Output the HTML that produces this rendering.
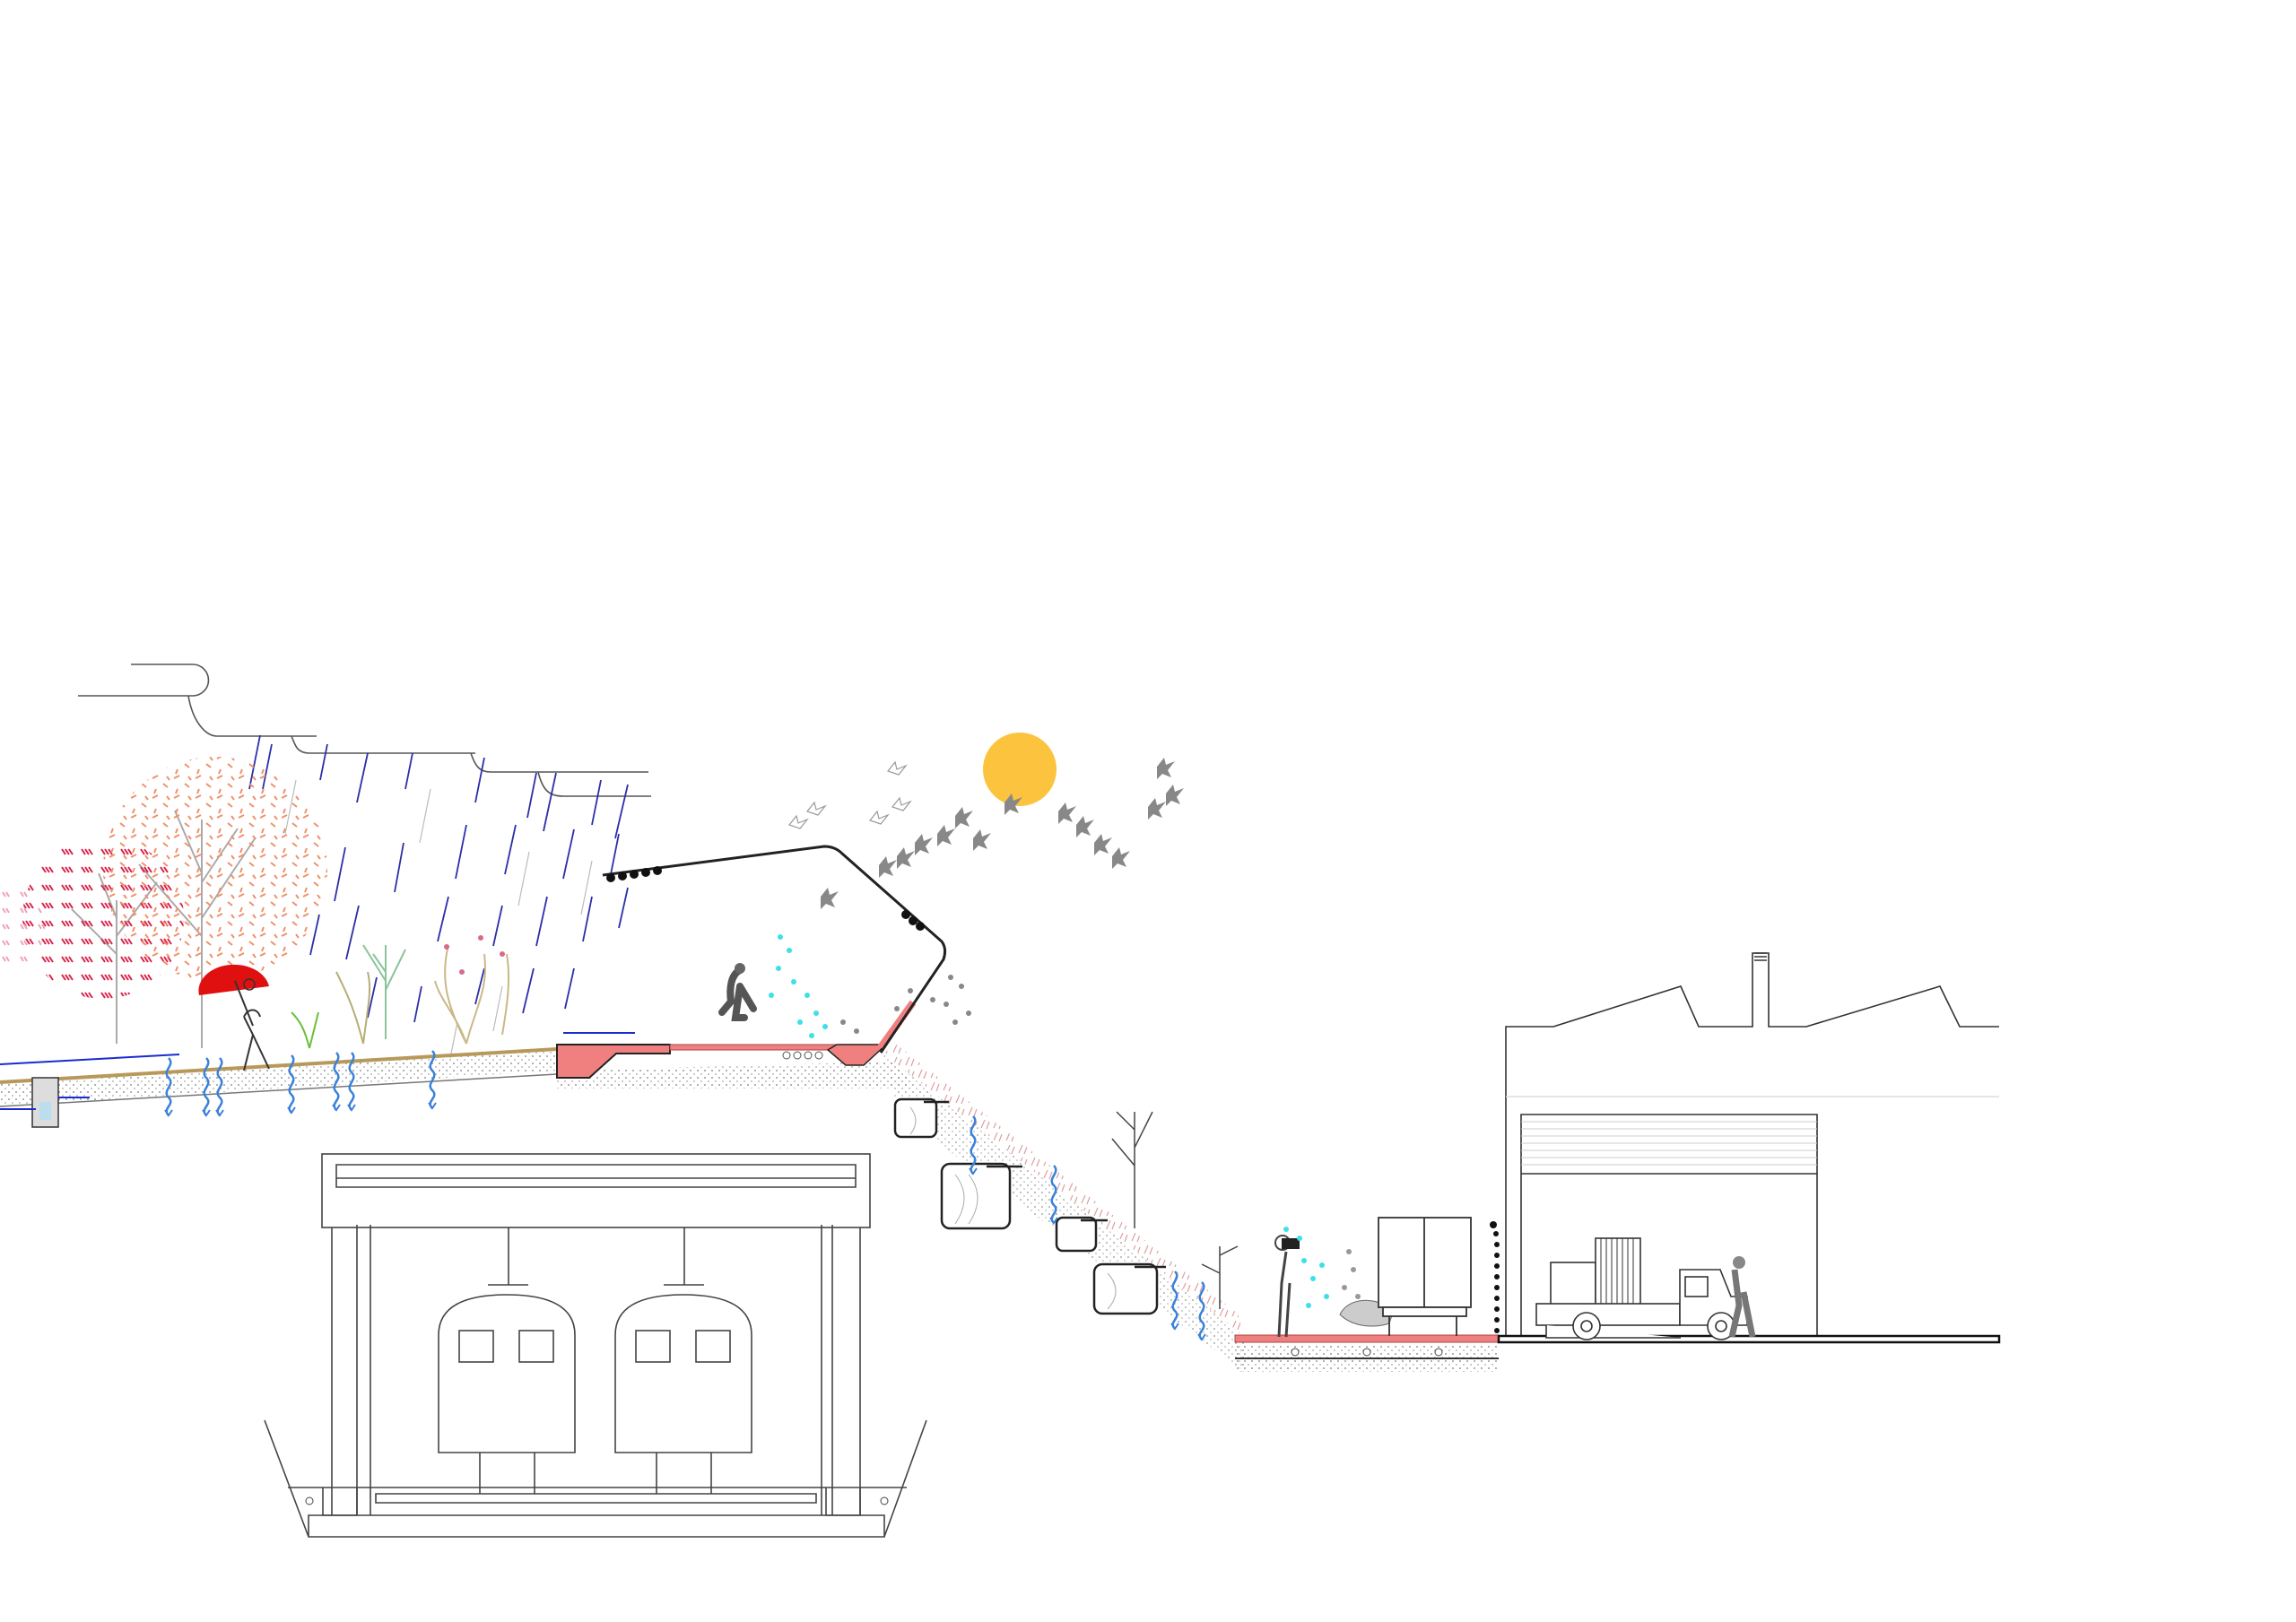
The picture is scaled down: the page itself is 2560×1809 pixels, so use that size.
<!DOCTYPE html>
<html><head><meta charset="utf-8"><style>html,body{margin:0;padding:0;background:#fff}svg{display:block}</style></head>
<body>
<svg width="2560" height="1809" viewBox="0 0 2560 1809" xmlns="http://www.w3.org/2000/svg">
<defs>
<pattern id="stip" width="8" height="8" patternUnits="userSpaceOnUse"><circle cx="2" cy="2" r="1" fill="#999"/><circle cx="6" cy="6" r="1" fill="#bbb"/></pattern>
<pattern id="redleaf" width="22" height="20" patternUnits="userSpaceOnUse"><path d="M3 3l4 6M7 3l4 6M11 3l4 6" stroke="#d8234a" stroke-width="2"/></pattern>
<pattern id="orleaf" width="24" height="22" patternUnits="userSpaceOnUse"><path d="M2 4l6-3M14 10l5 4M6 16l-2 5M18 2l3 4" stroke="#f0906a" stroke-width="2"/></pattern>
<pattern id="pinkleaf" width="20" height="18" patternUnits="userSpaceOnUse"><path d="M3 3l3 5M7 3l3 5" stroke="#f0a0b8" stroke-width="2"/></pattern>
<pattern id="grass" width="14" height="14" patternUnits="userSpaceOnUse"><path d="M2 12l4-9M8 13l3-8" stroke="#c77" stroke-width="1.2" opacity=".7"/></pattern>
<g id="bird"><path d="M0 0l8-10 2 8 10-4-8 10 4 8-10-4-6 6z" fill="#888"/></g>
<g id="wave"><path d="M0 0c8 8-8 14 0 22s-8 14 0 22s-8 12 0 20" fill="none" stroke="#3a82d8" stroke-width="2.5"/><path d="M-4 58l4 6 4-6" fill="none" stroke="#3a82d8" stroke-width="2"/></g>
</defs>

<!-- clouds -->
<g fill="none" stroke="#555" stroke-width="1.6">
<path d="M146 741H215a15 15 0 0 1 0 35H87"/>
<path d="M210 776c5 30 20 45 32 45H353"/>
<path d="M325 821c4 10 6 19 20 19H530"/>
<path d="M525 840c5 15 10 21 22 21H723"/>
<path d="M600 861c5 20 12 27 28 27H726"/>
</g>

<!-- rain -->
<g stroke="#2b2fa8" stroke-width="1.8">
<path d="M290 820l-12 60M303 830l-10 50M365 830l-8 40M410 840l-12 55M460 840l-8 40M540 845l-10 50M598 862l-10 50M620 862l-14 65M670 870l-10 50M700 875l-14 60M385 945l-12 60M450 940l-10 55M520 920l-12 60M575 920l-12 55M640 925l-12 55M690 930l-10 50M356 1020l-10 45M400 1010l-14 60M500 1000l-12 50M560 1010l-10 45M610 1000l-12 55M660 1000l-10 50M420 1090l-10 45M540 1080l-10 40M595 1080l-12 50M640 1080l-10 45M700 990l-10 45M470 1100l-8 40"/>
</g>
<g stroke="#bbb" stroke-width="1.2"><path d="M330 870l-12 60M480 880l-12 60M590 950l-12 60M660 960l-12 60M560 1100l-10 50M510 1140l-8 40"/></g>

<g transform="translate(0 -16)">
<!-- trees -->
<g stroke="#aaa" stroke-width="2" fill="none">
<path d="M130 1180V1020M130 1080l-50-50M130 1060l45-60M130 1040l-20-50"/>
<path d="M225 1185V930M225 1060l-70-80M225 1040l60-90M225 990l-30-70M225 1000l40-60"/>
</g>
<circle cx="115" cy="1040" r="90" fill="url(#redleaf)"/>
<ellipse cx="240" cy="985" rx="125" ry="125" fill="url(#orleaf)"/>
<ellipse cx="10" cy="1050" rx="40" ry="45" fill="url(#pinkleaf)"/>

<!-- plants -->
<g fill="none" stroke-width="2">
<path d="M430 1175V1070M430 1110l-25-40M430 1120l22-45M430 1100l-14-20" stroke="#8bc49a"/>
<path d="M405 1180c-10-40-20-60-30-80M405 1180c5-40 10-60 5-80" stroke="#b7ad78"/>
<path d="M520 1180c-20-40-30-70-20-110M520 1180c10-40 25-60 20-100M520 1180c-10-30-30-50-35-70M560 1170c5-30 10-60 5-90" stroke="#c9b987"/>
<path d="M345 1185c-5-20-10-30-20-40M345 1185l10-40" stroke="#6cbf3a"/>
</g>
<g fill="#d86a8a"><circle cx="498" cy="1072" r="3"/><circle cx="536" cy="1062" r="3"/><circle cx="560" cy="1080" r="3"/><circle cx="515" cy="1100" r="3"/></g>

<!-- ground left -->
<path d="M0 1223L621 1186V1210L0 1250Z" fill="url(#stip)"/>
<path d="M0 1223L621 1186" stroke="#b8995a" stroke-width="4"/>
<path d="M0 1203L200 1192" stroke="#1a2bd0" stroke-width="2"/>
<path d="M0 1250L621 1214" stroke="#777" stroke-width="1.5"/>
<rect x="36" y="1218" width="29" height="55" fill="#ddd" stroke="#333" stroke-width="1.5"/>
<rect x="44" y="1245" width="13" height="20" fill="#bde"/>
<path d="M0 1253h40M65 1240h35" stroke="#1a2bd0" stroke-width="2"/>
<g transform="translate(188 1196)"><use href="#wave"/></g>
<g transform="translate(230 1196)"><use href="#wave"/></g>
<g transform="translate(245 1196)"><use href="#wave"/></g>
<g transform="translate(325 1193)"><use href="#wave"/></g>
<g transform="translate(375 1190)"><use href="#wave"/></g>
<g transform="translate(392 1190)"><use href="#wave"/></g>
<g transform="translate(482 1188)"><use href="#wave"/></g>

<!-- umbrella person -->
<path d="M222 1126a38 28 0 0 1 78-10z" fill="#e01010"/>
<path d="M262 1110l20 50" stroke="#333" stroke-width="2"/>
<path d="M272 1150l10 20-10 40M282 1170l18 38M272 1150c5-10 15-10 18 0" fill="none" stroke="#333" stroke-width="2"/>
<circle cx="278" cy="1114" r="6" fill="none" stroke="#333" stroke-width="1.5"/>

<!-- platform -->
<path d="M620 1210L1000 1200l20 30H620Z" fill="url(#stip)"/>
<path d="M621 1181h126v10l-60 0-30 27h-36Z" fill="#f08080" stroke="#222" stroke-width="2"/>
<path d="M628 1168h80" stroke="#1a2bd0" stroke-width="2"/>
<path d="M747 1181h186v6H747Z" fill="#f08080" stroke="#a44" stroke-width="1"/>
<path d="M933 1181h55l-25 23h-20l-20-17Z" fill="#f08080" stroke="#222" stroke-width="1.5"/>
<path d="M982 1184l36-50" stroke="#f08080" stroke-width="8"/>
<g fill="none" stroke="#555"><circle cx="877" cy="1193" r="4"/><circle cx="889" cy="1193" r="4"/><circle cx="901" cy="1193" r="4"/><circle cx="913" cy="1193" r="4"/></g>
</g>
<!-- canopy -->
<g transform="translate(0 -10)">
<path d="M672 986L919 954q12 0 20 8L1050 1060q6 8 2 20L982 1184" fill="none" stroke="#222" stroke-width="3"/>
<g fill="#111"><circle cx="681" cy="989" r="5"/><circle cx="694" cy="987" r="5"/><circle cx="707" cy="985" r="5"/><circle cx="720" cy="983" r="5"/><circle cx="733" cy="981" r="5"/><circle cx="1010" cy="1030" r="5"/><circle cx="1018" cy="1037" r="5"/><circle cx="1026" cy="1043" r="5"/></g>
</g>
<!-- runner -->
<path d="M825 1082c-10 5-12 20-10 35l-10 12M825 1100l-5 35 10 0M825 1100l15 25" fill="none" stroke="#555" stroke-width="8" stroke-linecap="round"/>
<circle cx="825" cy="1080" r="6" fill="#666"/>
<g fill="#3ee0e8"><circle cx="870" cy="1045" r="3"/><circle cx="880" cy="1060" r="3"/><circle cx="868" cy="1080" r="3"/><circle cx="885" cy="1095" r="3"/><circle cx="900" cy="1110" r="3"/><circle cx="910" cy="1130" r="3"/><circle cx="892" cy="1140" r="3"/><circle cx="920" cy="1145" r="3"/><circle cx="860" cy="1110" r="3"/><circle cx="905" cy="1155" r="3"/></g>
<g fill="#888"><circle cx="1060" cy="1090" r="3"/><circle cx="1072" cy="1100" r="3"/><circle cx="1055" cy="1120" r="3"/><circle cx="1080" cy="1130" r="3"/><circle cx="1040" cy="1115" r="3"/><circle cx="1065" cy="1140" r="3"/><circle cx="1000" cy="1125" r="3"/><circle cx="1015" cy="1105" r="3"/><circle cx="940" cy="1140" r="3"/><circle cx="955" cy="1150" r="3"/></g>

<!-- sun & birds -->
<circle cx="1137" cy="858" r="41" fill="#fcc43e"/>
<g>
<use href="#bird" x="1120" y="895"/><use href="#bird" x="1180" y="905"/><use href="#bird" x="1200" y="920"/><use href="#bird" x="1065" y="910"/><use href="#bird" x="1045" y="930"/><use href="#bird" x="1020" y="940"/><use href="#bird" x="1000" y="955"/><use href="#bird" x="980" y="965"/><use href="#bird" x="1085" y="935"/><use href="#bird" x="1280" y="900"/><use href="#bird" x="1300" y="885"/><use href="#bird" x="1290" y="855"/><use href="#bird" x="1220" y="940"/><use href="#bird" x="915" y="1000"/><use href="#bird" x="1240" y="955"/>
</g>
<g fill="none" stroke="#999" stroke-width="1.2"><path d="M880 920l8-10 2 8 10-4-8 10z"/><path d="M900 905l8-10 2 8 10-4-8 10z"/><path d="M990 860l8-10 2 8 10-4-8 10z"/><path d="M970 915l8-10 2 8 10-4-8 10z"/><path d="M995 900l8-10 2 8 10-4-8 10z"/></g>

<!-- slope -->
<path d="M985 1175L1387 1490V1530L1000 1240Z" fill="url(#stip)" opacity=".8"/>
<path d="M985 1175L1387 1490L1380 1465L1000 1165Z" fill="url(#grass)"/>
<g fill="#fff" stroke="#222" stroke-width="2.5">
<rect x="998" y="1226" width="46" height="42" rx="7"/>
<path d="M1030 1229h28"/>
<rect x="1050" y="1298" width="76" height="72" rx="9"/>
<path d="M1100 1301h40"/>
<rect x="1178" y="1358" width="44" height="37" rx="7"/>
<path d="M1205 1361h30"/>
<rect x="1220" y="1410" width="70" height="55" rx="9"/>
<path d="M1265 1413h35"/>
</g>
<g fill="none" stroke="#aaa" stroke-width="1"><path d="M1015 1235q12 15 0 30M1065 1310q20 25 0 55M1080 1310q20 25 0 55M1235 1420q18 20 0 40"/></g>
<g transform="translate(1085 1245)"><use href="#wave"/></g>
<g transform="translate(1175 1300)"><use href="#wave"/></g>
<g transform="translate(1310 1418)"><use href="#wave"/></g>
<g transform="translate(1340 1430)"><use href="#wave"/></g>
<path d="M1265 1370V1240M1265 1300l-25-30M1265 1280l20-40M1265 1260l-20-20" fill="none" stroke="#444" stroke-width="1.5"/>
<path d="M1360 1460v-70M1360 1420l-20-10M1360 1400l20-10" fill="none" stroke="#444" stroke-width="1.5"/>

<g transform="translate(-6 -4)">
<!-- street -->
<rect x="1383" y="1520" width="294" height="14" fill="url(#stip)"/>
<rect x="1383" y="1505" width="294" height="14" fill="url(#stip)"/>
<rect x="1383" y="1493" width="294" height="8" fill="#f08080" stroke="#a44"/>
<path d="M1383 1519h294" stroke="#333" stroke-width="2"/>
<g fill="#fff" stroke="#444"><circle cx="1450" cy="1512" r="4"/><circle cx="1530" cy="1512" r="4"/><circle cx="1610" cy="1512" r="4"/></g>
<!-- person -->
<path d="M1432 1495l3-60 5-35M1440 1495l4-60" fill="none" stroke="#444" stroke-width="3"/>
<circle cx="1436" cy="1390" r="8" fill="none" stroke="#444" stroke-width="2"/>
<rect x="1435" y="1385" width="20" height="12" fill="#222"/>
<g fill="#3ee0e8"><circle cx="1440" cy="1375" r="3"/><circle cx="1455" cy="1385" r="3"/><circle cx="1460" cy="1410" r="3"/><circle cx="1470" cy="1430" r="3"/><circle cx="1465" cy="1460" r="3"/><circle cx="1480" cy="1415" r="3"/><circle cx="1485" cy="1450" r="3"/></g>
<g fill="#999"><circle cx="1510" cy="1400" r="3"/><circle cx="1515" cy="1420" r="3"/><circle cx="1505" cy="1440" r="3"/><circle cx="1520" cy="1450" r="3"/></g>
<path d="M1500 1470c10-20 40-20 60-5l-5 15c-15 5-40 5-55-10z" fill="#ccc" stroke="#666"/>
<!-- truck -->
<g fill="#fff" stroke="#333" stroke-width="1.8">
<rect x="1543" y="1362" width="103" height="100"/>
<path d="M1594 1362v100"/>
<rect x="1548" y="1462" width="93" height="10"/>
<path d="M1555 1472v22M1630 1472v22"/>
</g>
<g fill="#111"><circle cx="1671" cy="1370" r="4"/><circle cx="1674" cy="1380" r="3"/><circle cx="1675" cy="1392" r="3"/><circle cx="1675" cy="1404" r="3"/><circle cx="1675" cy="1416" r="3"/><circle cx="1675" cy="1428" r="3"/><circle cx="1675" cy="1440" r="3"/><circle cx="1675" cy="1452" r="3"/><circle cx="1675" cy="1464" r="3"/><circle cx="1675" cy="1476" r="3"/><circle cx="1675" cy="1488" r="3"/></g>

<!-- building -->
<g fill="none" stroke="#333" stroke-width="1.6">
<path d="M1685 1498V1149H1738L1880 1104 1900 1149H1960V1067H1978V1149H2020L2169 1104 2191 1149H2235"/>
<path d="M1962 1067h14M1962 1071h14M1962 1075h14"/>
<path d="M1702 1498V1247H2032V1498"/>
<path d="M1702 1313H2032"/>
</g>
<path d="M1685 1227H2235" stroke="#ddd" stroke-width="1.5"/>
<g stroke="#ccc" stroke-width="1"><path d="M1702 1255h330M1702 1263h330M1702 1271h330M1702 1279h330M1702 1287h330M1702 1295h330M1702 1303h330"/></g>
<rect x="1677" y="1494" width="558" height="7" fill="#fff" stroke="#111" stroke-width="2.5"/>
<!-- pickup -->
<g fill="#fff" stroke="#333" stroke-width="1.6">
<rect x="1735" y="1412" width="50" height="48"/>
<rect x="1785" y="1385" width="50" height="78"/>
<path d="M1791 1385v78M1797 1385v78M1803 1385v78M1809 1385v78M1815 1385v78M1821 1385v78M1827 1385v78" stroke-width="1"/>
<rect x="1719" y="1458" width="160" height="24"/>
<path d="M1879 1482V1420h45l12 30h18v32H1879z"/>
<rect x="1885" y="1428" width="25" height="22"/>
<path d="M1730 1482v14h150"/>
<circle cx="1775" cy="1483" r="15"/><circle cx="1775" cy="1483" r="6"/>
<circle cx="1925" cy="1483" r="15"/><circle cx="1925" cy="1483" r="6"/>
</g>
<path d="M1940 1420l5 40-8 35M1950 1445l10 50" stroke="#777" stroke-width="7" fill="none"/>
<circle cx="1945" cy="1412" r="7" fill="#888"/>
</g>

<!-- tunnel -->
<g transform="translate(0 -6)">
<g fill="none" stroke="#444" stroke-width="1.6">
<rect x="359" y="1293" width="611" height="82"/>
<path d="M375 1305H954V1330H375ZM375 1320H954"/>
<path d="M370 1375V1696M398 1372V1696M413 1372V1696M959 1375V1696M928 1372V1696M916 1372V1696"/>
<path d="M295 1590L344 1720H986L1033 1590"/>
<path d="M321 1665H1011M344 1720V1696H986V1720"/>
<path d="M360 1665v31h38v-31M921 1665v31h38v-31"/>
<path d="M419 1672H910v10H419z"/>
<path d="M567 1375v64M544 1439h45M763 1375v64M740 1439h45"/>
<path d="M489 1626V1495q0-45 76-45t76 45V1626ZM686 1626V1495q0-45 76-45t76 45V1626Z"/>
<rect x="512" y="1490" width="38" height="35"/><rect x="579" y="1490" width="38" height="35"/>
<rect x="709" y="1490" width="38" height="35"/><rect x="776" y="1490" width="38" height="35"/>
<path d="M535 1626v46M596 1626v46M732 1626v46M793 1626v46"/>
</g>
<g fill="none" stroke="#444"><circle cx="345" cy="1680" r="4"/><circle cx="986" cy="1680" r="4"/></g>
</g>
</svg>
</body></html>
